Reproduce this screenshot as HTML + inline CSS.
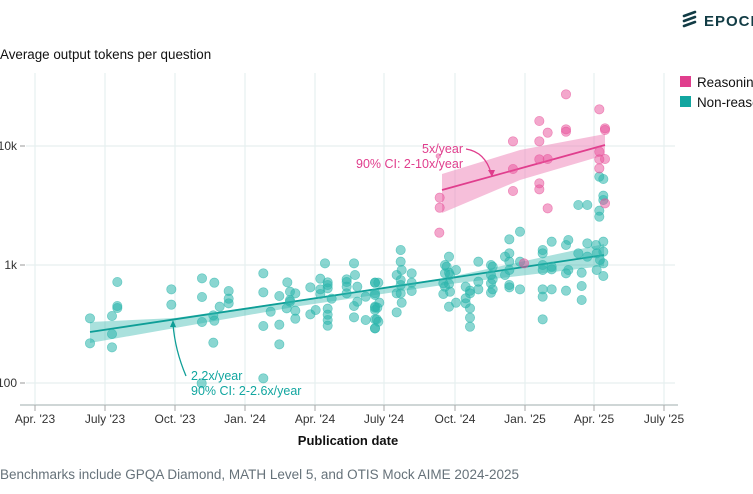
<!DOCTYPE html>
<html><head><meta charset="utf-8"><style>
html,body{margin:0;padding:0;background:#fff;}
body{width:753px;height:489px;overflow:hidden;font-family:"Liberation Sans",sans-serif;}
</style></head><body>
<svg width="753" height="489" xmlns="http://www.w3.org/2000/svg" font-family="Liberation Sans, sans-serif">
<g stroke="#123c45" stroke-width="2.6" stroke-linecap="round">
<line x1="684" y1="16" x2="695" y2="12"/><line x1="684" y1="21" x2="695" y2="17"/><line x1="684" y1="26" x2="695" y2="22"/>
</g>
<text x="704" y="26" font-size="15" font-weight="bold" fill="#123c45" letter-spacing="1">EPOCH</text>
<text x="0" y="59" font-size="13.4" fill="#111">Average output tokens per question</text>
<g stroke="#e6efef" stroke-width="1.2">
<line x1="35" y1="73" x2="35" y2="405"/><line x1="105" y1="73" x2="105" y2="405"/><line x1="175" y1="73" x2="175" y2="405"/><line x1="245" y1="73" x2="245" y2="405"/><line x1="315" y1="73" x2="315" y2="405"/><line x1="384" y1="73" x2="384" y2="405"/><line x1="455" y1="73" x2="455" y2="405"/><line x1="525" y1="73" x2="525" y2="405"/><line x1="594" y1="73" x2="594" y2="405"/><line x1="664" y1="73" x2="664" y2="405"/>
<line x1="26" y1="146" x2="675" y2="146"/><line x1="26" y1="265" x2="675" y2="265"/><line x1="26" y1="383" x2="675" y2="383"/>
</g>
<g stroke="#999" stroke-width="1"><line x1="20" y1="146" x2="25" y2="146"/><line x1="20" y1="265" x2="25" y2="265"/><line x1="20" y1="383" x2="25" y2="383"/></g>
<line x1="20" y1="405" x2="678" y2="405" stroke="#cfd6d6" stroke-width="2"/>
<g stroke="#aaa"><line x1="35" y1="405" x2="35" y2="411"/><line x1="105" y1="405" x2="105" y2="411"/><line x1="175" y1="405" x2="175" y2="411"/><line x1="245" y1="405" x2="245" y2="411"/><line x1="315" y1="405" x2="315" y2="411"/><line x1="384" y1="405" x2="384" y2="411"/><line x1="455" y1="405" x2="455" y2="411"/><line x1="525" y1="405" x2="525" y2="411"/><line x1="594" y1="405" x2="594" y2="411"/><line x1="664" y1="405" x2="664" y2="411"/></g>
<g font-size="12" fill="#333" text-anchor="end"><text x="17" y="150">10k</text><text x="17" y="269">1k</text><text x="17" y="387">100</text></g>
<g font-size="12" fill="#333" text-anchor="middle"><text x="35" y="423">Apr. '23</text><text x="105" y="423">July '23</text><text x="175" y="423">Oct. '23</text><text x="245" y="423">Jan. '24</text><text x="315" y="423">Apr. '24</text><text x="384" y="423">July '24</text><text x="455" y="423">Oct. '24</text><text x="525" y="423">Jan. '25</text><text x="594" y="423">Apr. '25</text><text x="664" y="423">July '25</text></g>
<text x="348" y="445" font-size="13" font-weight="bold" fill="#111" text-anchor="middle">Publication date</text>
<text x="0" y="479" font-size="13.5" fill="#66727a">Benchmarks include GPQA Diamond, MATH Level 5, and OTIS Mock AIME 2024-2025</text>
<rect x="680" y="76" width="11" height="11" fill="#e03e8d"/><text x="697" y="87" font-size="13.4" fill="#111">Reasoning</text>
<rect x="680" y="96" width="11" height="11" fill="#12a6a0"/><text x="697" y="107" font-size="13.4" fill="#111">Non-reasoning</text>
<polygon points="90,322 175,318 300,300 450,277 604,244 604,266 450,284 300,306 175,328 90,343" fill="#2ab5ab" opacity="0.4"/>
<line x1="90" y1="332" x2="604" y2="255" stroke="#0e9e97" stroke-width="1.8"/>
<polygon points="442,174 520,150 605,134 605,155 520,180 442,213" fill="#ee80b5" opacity="0.5"/>
<line x1="442" y1="190" x2="605" y2="145" stroke="#e03e8d" stroke-width="1.8"/>
<g transform="translate(0,80) scale(0.33333)" fill="#2ab5ab" fill-opacity="0.55" stroke="#2ab5ab" stroke-opacity="0.6" stroke-width="2">
<circle cx="270" cy="715" r="14"/><circle cx="270" cy="790" r="14"/><circle cx="336" cy="708" r="14"/><circle cx="336" cy="762" r="14"/><circle cx="336" cy="802" r="14"/><circle cx="352" cy="606" r="14"/><circle cx="352" cy="678" r="14"/><circle cx="352" cy="684" r="14"/><circle cx="514" cy="628" r="14"/><circle cx="514" cy="674" r="14"/><circle cx="606" cy="595" r="14"/><circle cx="606" cy="651" r="14"/><circle cx="606" cy="726" r="14"/><circle cx="643" cy="608" r="14"/><circle cx="640" cy="706" r="14"/><circle cx="643" cy="722" r="14"/><circle cx="640" cy="788" r="14"/><circle cx="659" cy="680" r="14"/><circle cx="686" cy="633" r="14"/><circle cx="686" cy="656" r="14"/><circle cx="686" cy="670" r="14"/><circle cx="790" cy="580" r="14"/><circle cx="790" cy="637" r="14"/><circle cx="790" cy="738" r="14"/><circle cx="790" cy="895" r="14"/><circle cx="812" cy="695" r="14"/><circle cx="838" cy="648" r="14"/><circle cx="838" cy="734" r="14"/><circle cx="838" cy="793" r="14"/><circle cx="862" cy="607" r="14"/><circle cx="870" cy="635" r="14"/><circle cx="870" cy="660" r="14"/><circle cx="870" cy="665" r="14"/><circle cx="860" cy="685" r="14"/><circle cx="886" cy="640" r="14"/><circle cx="886" cy="692" r="14"/><circle cx="886" cy="716" r="14"/><circle cx="931" cy="622" r="14"/><circle cx="931" cy="703" r="14"/><circle cx="947" cy="690" r="14"/><circle cx="961" cy="596" r="14"/><circle cx="961" cy="628" r="14"/><circle cx="961" cy="642" r="14"/><circle cx="975" cy="550" r="14"/><circle cx="983" cy="607" r="14"/><circle cx="983" cy="615" r="14"/><circle cx="983" cy="625" r="14"/><circle cx="983" cy="686" r="14"/><circle cx="983" cy="704" r="14"/><circle cx="983" cy="720" r="14"/><circle cx="983" cy="737" r="14"/><circle cx="995" cy="656" r="14"/><circle cx="1040" cy="598" r="14"/><circle cx="1040" cy="606" r="14"/><circle cx="1040" cy="620" r="14"/><circle cx="1040" cy="640" r="14"/><circle cx="1062" cy="550" r="14"/><circle cx="1065" cy="585" r="14"/><circle cx="1062" cy="678" r="14"/><circle cx="1062" cy="712" r="14"/><circle cx="1072" cy="620" r="14"/><circle cx="1072" cy="665" r="14"/><circle cx="1097" cy="650" r="14"/><circle cx="1097" cy="720" r="14"/><circle cx="1125" cy="608" r="14"/><circle cx="1125" cy="645" r="14"/><circle cx="1125" cy="680" r="14"/><circle cx="1125" cy="690" r="14"/><circle cx="1130" cy="718" r="14"/><circle cx="1125" cy="745" r="14"/><circle cx="605" cy="910" r="14"/>
</g>
<g transform="translate(370,80) scale(0.33333)" fill="#2ab5ab" fill-opacity="0.55" stroke="#2ab5ab" stroke-opacity="0.6" stroke-width="2">
<circle cx="15" cy="608" r="14"/><circle cx="25" cy="608" r="14"/><circle cx="15" cy="640" r="14"/><circle cx="28" cy="668" r="14"/><circle cx="15" cy="683" r="14"/><circle cx="22" cy="683" r="14"/><circle cx="15" cy="718" r="14"/><circle cx="25" cy="725" r="14"/><circle cx="15" cy="745" r="14"/><circle cx="80" cy="585" r="14"/><circle cx="92" cy="510" r="14"/><circle cx="92" cy="545" r="14"/><circle cx="95" cy="570" r="14"/><circle cx="92" cy="600" r="14"/><circle cx="92" cy="615" r="14"/><circle cx="80" cy="640" r="14"/><circle cx="92" cy="640" r="14"/><circle cx="95" cy="668" r="14"/><circle cx="80" cy="697" r="14"/><circle cx="125" cy="580" r="14"/><circle cx="125" cy="608" r="14"/><circle cx="125" cy="633" r="14"/><circle cx="237" cy="530" r="14"/><circle cx="225" cy="555" r="14"/><circle cx="230" cy="560" r="14"/><circle cx="237" cy="578" r="14"/><circle cx="225" cy="580" r="14"/><circle cx="240" cy="585" r="14"/><circle cx="220" cy="610" r="14"/><circle cx="237" cy="612" r="14"/><circle cx="225" cy="620" r="14"/><circle cx="240" cy="635" r="14"/><circle cx="220" cy="642" r="14"/><circle cx="237" cy="680" r="14"/><circle cx="258" cy="570" r="14"/><circle cx="258" cy="668" r="14"/><circle cx="287" cy="620" r="14"/><circle cx="300" cy="632" r="14"/><circle cx="287" cy="655" r="14"/><circle cx="300" cy="640" r="14"/><circle cx="287" cy="670" r="14"/><circle cx="300" cy="685" r="14"/><circle cx="300" cy="713" r="14"/><circle cx="300" cy="740" r="14"/><circle cx="325" cy="545" r="14"/><circle cx="325" cy="605" r="14"/><circle cx="325" cy="628" r="14"/><circle cx="363" cy="555" r="14"/><circle cx="368" cy="560" r="14"/><circle cx="363" cy="585" r="14"/><circle cx="368" cy="598" r="14"/><circle cx="363" cy="610" r="14"/><circle cx="368" cy="628" r="14"/><circle cx="363" cy="638" r="14"/><circle cx="405" cy="530" r="14"/><circle cx="418" cy="478" r="14"/><circle cx="418" cy="520" r="14"/><circle cx="418" cy="545" r="14"/><circle cx="405" cy="585" r="14"/><circle cx="418" cy="570" r="14"/><circle cx="418" cy="615" r="14"/><circle cx="418" cy="622" r="14"/><circle cx="450" cy="455" r="14"/><circle cx="450" cy="545" r="14"/><circle cx="450" cy="628" r="14"/><circle cx="518" cy="510" r="14"/><circle cx="518" cy="520" r="14"/><circle cx="518" cy="555" r="14"/><circle cx="518" cy="570" r="14"/><circle cx="518" cy="628" r="14"/><circle cx="518" cy="650" r="14"/><circle cx="518" cy="718" r="14"/><circle cx="545" cy="485" r="14"/><circle cx="545" cy="560" r="14"/><circle cx="545" cy="568" r="14"/><circle cx="545" cy="628" r="14"/><circle cx="588" cy="495" r="14"/><circle cx="595" cy="480" r="14"/><circle cx="588" cy="580" r="14"/><circle cx="595" cy="570" r="14"/><circle cx="588" cy="632" r="14"/><circle cx="625" cy="375" r="14"/><circle cx="652" cy="375" r="14"/><circle cx="625" cy="520" r="14"/><circle cx="635" cy="578" r="14"/><circle cx="635" cy="618" r="14"/><circle cx="635" cy="660" r="14"/><circle cx="652" cy="490" r="14"/><circle cx="652" cy="530" r="14"/><circle cx="678" cy="495" r="14"/><circle cx="700" cy="485" r="14"/><circle cx="700" cy="515" r="14"/><circle cx="680" cy="520" r="14"/><circle cx="690" cy="540" r="14"/><circle cx="700" cy="550" r="14"/><circle cx="680" cy="570" r="14"/><circle cx="700" cy="588" r="14"/><circle cx="688" cy="290" r="14"/><circle cx="700" cy="297" r="14"/><circle cx="700" cy="347" r="14"/><circle cx="700" cy="360" r="14"/><circle cx="688" cy="392" r="14"/><circle cx="688" cy="410" r="14"/>
</g>
<g transform="translate(370,80) scale(0.33333)" fill="#e8509a" fill-opacity="0.5" stroke="#e8509a" stroke-opacity="0.6" stroke-width="2">
<circle cx="209" cy="353" r="14"/><circle cx="209" cy="383" r="14"/><circle cx="208" cy="458" r="14"/><circle cx="429" cy="184" r="14"/><circle cx="429" cy="267" r="14"/><circle cx="429" cy="333" r="14"/><circle cx="508" cy="123" r="14"/><circle cx="508" cy="184" r="14"/><circle cx="508" cy="238" r="14"/><circle cx="508" cy="310" r="14"/><circle cx="508" cy="328" r="14"/><circle cx="533" cy="158" r="14"/><circle cx="533" cy="237" r="14"/><circle cx="533" cy="385" r="14"/><circle cx="588" cy="43" r="14"/><circle cx="588" cy="148" r="14"/><circle cx="588" cy="155" r="14"/><circle cx="688" cy="88" r="14"/><circle cx="705" cy="145" r="14"/><circle cx="705" cy="150" r="14"/><circle cx="688" cy="215" r="14"/><circle cx="688" cy="238" r="14"/><circle cx="705" cy="237" r="14"/><circle cx="688" cy="265" r="14"/><circle cx="705" cy="370" r="14"/><circle cx="462" cy="550" r="14"/><circle cx="205" cy="228" r="7"/>
</g>
<path d="M186,376 Q175,350 173,324" fill="none" stroke="#0e9e97" stroke-width="1.3"/>
<polygon points="173,320 170,327 176,327" fill="#0e9e97"/>
<text x="191" y="380" font-size="12.5" fill="#12a6a0">2.2x/year</text>
<text x="191" y="395" font-size="12.5" fill="#12a6a0">90% CI: 2-2.6x/year</text>
<path d="M466,149 Q485,152 491,173" fill="none" stroke="#e03e8d" stroke-width="1.3"/>
<polygon points="492,177 488,170 495,170" fill="#e03e8d"/>
<text x="463" y="153" font-size="12.5" fill="#e03e8d" text-anchor="end">5x/year</text>
<text x="463" y="168" font-size="12.5" fill="#e03e8d" text-anchor="end">90% CI: 2-10x/year</text>
</svg>
</body></html>
